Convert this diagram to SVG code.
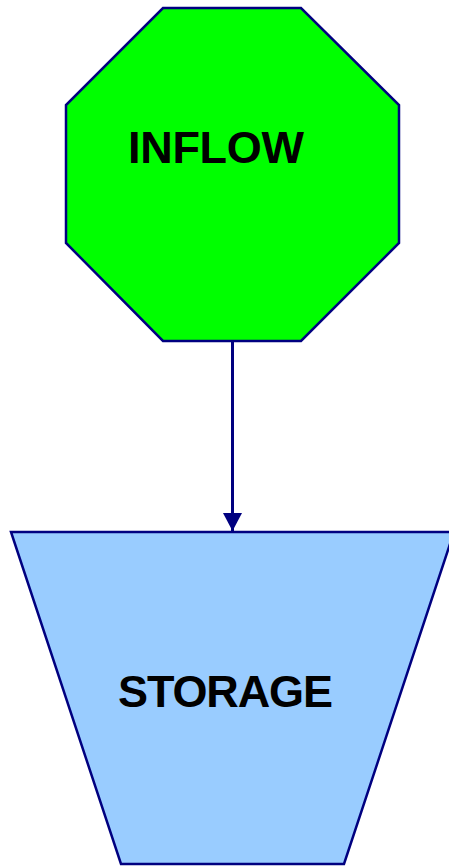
<svg xmlns="http://www.w3.org/2000/svg" width="449" height="866" viewBox="0 0 449 866">
<style>
.shape{stroke:#000080;stroke-width:2.5;stroke-linejoin:miter}
.lbl{font-family:"Liberation Sans",Arial,sans-serif;font-weight:bold;font-size:45px;fill:#000}
.edge{stroke:#000080;stroke-width:3;fill:none}
</style>
<defs>
<marker id="arr" markerUnits="userSpaceOnUse" markerWidth="20" markerHeight="20" viewBox="0 0 20 20" refX="18" refY="10" orient="auto">
<path d="M0,0.5 L18,10 L0,19.5 Z" fill="#000080"/>
</marker>
</defs>
<g id="connectors">
<line class="edge" x1="232.5" y1="341" x2="232.5" y2="531" marker-end="url(#arr)"/>
</g>
<g id="inflow">
<polygon class="shape" fill="#00FF00" points="163,8 301,8 399,105 399,243 301,341 163,341 66,243 66,105"/>
<text class="lbl" x="128" y="163" textLength="176">INFLOW</text>
</g>
<g id="storage">
<polygon class="shape" fill="#99CCFF" points="11,532 454,532 344,864 121,864"/>
<text class="lbl" x="118" y="707" textLength="215">STORAGE</text>
</g>
</svg>
